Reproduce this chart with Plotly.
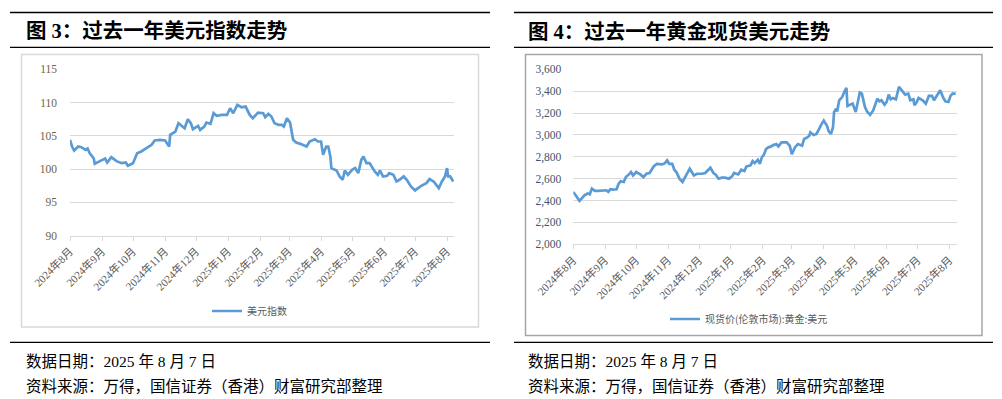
import datetime as dt
import plotly.graph_objects as go

# ---------------- data ----------------
START_DATE = dt.date(2024, 8, 1)

# US dollar index: days since 2024-08-01 and values
usd_days = [0, 2, 4, 6, 8, 11, 15, 17, 19, 23, 24, 29, 34, 36, 40, 45, 50, 54, 56, 60,
            61, 65, 69, 74, 79, 82, 87, 92, 94, 96, 97, 102, 105, 108, 111, 114, 117, 119,
            124, 126, 130, 132, 136, 139, 142, 147, 152, 155, 158, 162, 166, 170, 174, 177,
            182, 187, 189, 192, 195, 198, 202, 205, 207, 210, 213, 216, 219, 223, 226, 229,
            232, 237, 240, 243, 245, 248, 250, 252, 253, 258, 261, 264, 266, 269, 273, 276,
            279, 282, 284, 287, 290, 295, 298, 300, 303, 307, 309, 313, 316, 319, 323, 326,
            330, 334, 337, 340, 345, 348, 352, 357, 360, 363, 365, 366, 368, 371]
usd_values = [104.4, 103.4, 102.8, 103.1, 103.4, 103.3, 102.9, 103.1, 102.4, 101.6, 100.8,
              101.2, 101.6, 101.0, 101.8, 101.2, 100.9, 101.0, 100.5, 100.8, 100.9, 102.4,
              102.65, 103.15, 103.65, 104.3, 104.4, 104.3, 103.9, 103.4, 105.15, 105.65,
              106.9, 106.5, 106.15, 107.5, 106.9, 106.0, 106.5, 105.9, 106.4, 107.0, 106.8,
              108.4, 108.0, 108.15, 108.15, 109.15, 108.4, 109.65, 109.3, 109.4, 108.15,
              107.65, 108.5, 108.4, 107.8, 108.3, 107.9, 106.9, 106.65, 106.65, 106.4,
              107.65, 107.0, 104.4, 104.0, 103.8, 103.65, 103.4, 104.15, 104.5, 104.15,
              104.15, 102.15, 103.4, 103.4, 101.9, 100.15, 99.8, 98.9, 98.4, 99.8, 99.15,
              99.9, 100.15, 99.4, 101.4, 101.9, 100.9, 100.9, 99.65, 99.15, 99.8, 98.9, 99.0,
              99.4, 99.15, 98.15, 98.4, 98.9, 98.4, 97.4, 96.8, 97.15, 97.5, 97.9, 98.5,
              98.15, 97.15, 98.15, 98.9, 100.15, 98.9, 98.9, 98.15]

# London spot gold (USD): days since 2024-08-01 and values
gold_days = [0, 4, 6, 8, 11, 14, 16, 18, 21, 24, 29, 32, 34, 36, 39, 42, 44, 46, 49, 51, 54,
             56, 58, 61, 65, 68, 71, 74, 78, 81, 86, 89, 91, 93, 96, 98, 100, 103, 106, 109,
             113, 117, 120, 125, 128, 133, 136, 138, 141, 144, 147, 151, 154, 156, 160, 163,
             166, 168, 172, 174, 176, 179, 181, 183, 185, 187, 189, 192, 194, 197, 199, 202,
             207, 210, 212, 215, 218, 222, 224, 227, 229, 230, 233, 236, 239, 241, 243, 246,
             248, 250, 252, 253, 255, 256, 258, 261, 263, 265, 266, 269, 271, 274, 276, 278,
             280, 283, 285, 288, 291, 293, 295, 297, 299, 302, 304, 306, 308, 310, 313, 316,
             319, 322, 325, 327, 330, 331, 333, 335, 339, 342, 345, 348, 350, 353, 356, 359,
             361, 364, 366, 368, 371]
gold_values = [2479, 2427, 2397, 2418, 2449, 2464, 2458, 2509, 2488, 2488, 2491, 2494, 2479,
               2503, 2500, 2503, 2555, 2576, 2570, 2615, 2639, 2661, 2630, 2661, 2639, 2615,
               2645, 2652, 2712, 2736, 2730, 2742, 2767, 2736, 2736, 2682, 2661, 2600, 2570,
               2621, 2691, 2630, 2645, 2645, 2652, 2700, 2652, 2639, 2600, 2609, 2609, 2600,
               2621, 2652, 2639, 2682, 2670, 2712, 2721, 2761, 2742, 2773, 2736, 2797, 2821,
               2870, 2886, 2895, 2907, 2916, 2895, 2932, 2932, 2901, 2824, 2886, 2916, 2901,
               2963, 2978, 2993, 3024, 3000, 3009, 3070, 3101, 3132, 3086, 3030, 3009, 3070,
               3209, 3240, 3215, 3317, 3348, 3394, 3431, 3264, 3277, 3286, 3209, 3286, 3388,
               3378, 3255, 3215, 3184, 3224, 3286, 3332, 3308, 3317, 3277, 3301, 3369, 3326,
               3338, 3326, 3440, 3409, 3369, 3378, 3317, 3326, 3271, 3295, 3338, 3317, 3286,
               3357, 3357, 3317, 3369, 3409, 3338, 3308, 3301, 3357, 3378, 3378]

tick_dates = ["2024-08-01", "2024-09-01", "2024-10-01", "2024-11-01", "2024-12-01",
              "2025-01-01", "2025-02-01", "2025-03-01", "2025-04-01", "2025-05-01",
              "2025-06-01", "2025-07-01", "2025-08-01"]
tick_labels = ["2024年8月", "2024年9月", "2024年10月", "2024年11月", "2024年12月",
               "2025年1月", "2025年2月", "2025年3月", "2025年4月", "2025年5月",
               "2025年6月", "2025年7月", "2025年8月"]

usd_name = "美元指数"
gold_name = "现货价(伦敦市场):黄金:美元"
title_left = "图 3：过去一年美元指数走势"
title_right = "图 4：过去一年黄金现货美元走势"
note_date = "数据日期：2025 年 8 月 7 日"
note_source = "资料来源：万得，国信证券（香港）财富研究部整理"

usd_x = [START_DATE + dt.timedelta(days=d) for d in usd_days]
gold_x = [START_DATE + dt.timedelta(days=d) for d in gold_days]

# ---------------- figure ----------------
W, H = 1002, 399
LINE = "#5b9bd5"
GRID = "#d9d9d9"
SERIF = "Liberation Serif, Noto Sans CJK SC"
CJK = "Noto Sans CJK SC"


def px(x):
    return x / W


def py(y):
    return 1 - y / H


fig = go.Figure()
fig.add_trace(go.Scatter(x=usd_x, y=usd_values, mode="lines", name=usd_name,
                         line=dict(color=LINE, width=2.7), xaxis="x", yaxis="y",
                         legend="legend"))
fig.add_trace(go.Scatter(x=gold_x, y=gold_values, mode="lines", name=gold_name,
                         line=dict(color=LINE, width=2.7), xaxis="x2", yaxis="y2",
                         legend="legend2"))

xcommon = dict(type="date", tickmode="array", tickvals=tick_dates, ticktext=tick_labels,
               tickangle=-45, showgrid=False, showline=True, linecolor=GRID, linewidth=1,
               ticks="outside", ticklen=4, tickcolor=GRID, tickwidth=1, automargin=False,
               tickfont=dict(family=SERIF, size=11, color="#595959"), zeroline=False)

fig.update_layout(
    template="none",
    width=W, height=H, margin=dict(l=0, r=0, t=0, b=0, pad=0), autosize=False,
    paper_bgcolor="white", plot_bgcolor="white",
    xaxis=dict(domain=[px(70), px(454)], range=["2024-08-01", "2025-08-07 17:00"],
               anchor="y", **xcommon),
    yaxis=dict(domain=[py(235.7), py(69.3)], range=[90, 115], dtick=5, tick0=90,
               showgrid=True, gridcolor=GRID, gridwidth=1, zeroline=False, showline=False,
               ticks="", ticklabelstandoff=12, automargin=False,
               tickfont=dict(family=SERIF, size=11.5, color="#6e6248"), anchor="x"),
    xaxis2=dict(domain=[px(573.3), px(956.7)], range=["2024-08-01", "2025-08-08"],
                anchor="y2", **xcommon),
    yaxis2=dict(domain=[py(244.3), py(69.3)], range=[2000, 3600], dtick=200, tick0=2000,
                tickformat=",", showgrid=True, gridcolor=GRID, gridwidth=1, zeroline=False,
                showline=False, ticks="", ticklabelstandoff=11, automargin=False,
                tickfont=dict(family=SERIF, size=11.5, color="#44546a"), anchor="x2"),
    legend=dict(x=px(207), y=py(311), xanchor="left", yanchor="middle",
                font=dict(family=CJK, size=10, color="#595959"), bgcolor="rgba(0,0,0,0)",
                itemwidth=30, tracegroupgap=0),
    legend2=dict(x=px(665), y=py(319), xanchor="left", yanchor="middle",
                 font=dict(family=CJK, size=10, color="#595959"), bgcolor="rgba(0,0,0,0)",
                 itemwidth=30, tracegroupgap=0),
    showlegend=True,
)

shapes = []
# black rules
for x0, x1 in [(10, 490), (514, 993)]:
    for yy in (12.5, 47.3, 342.3):
        shapes.append(dict(type="line", xref="paper", yref="paper", x0=px(x0), x1=px(x1),
                           y0=py(yy), y1=py(yy), line=dict(color="black", width=1.3)))
# chart frames
shapes.append(dict(type="rect", xref="paper", yref="paper", x0=px(21.5), x1=px(478.5),
                   y0=py(327), y1=py(54.5), line=dict(color="#d9d9d9", width=1.5)))
shapes.append(dict(type="rect", xref="paper", yref="paper", x0=px(525.5), x1=px(982),
                   y0=py(335.5), y1=py(54.5), line=dict(color="#a6a6a6", width=1.5)))
fig.update_layout(shapes=shapes)

annotations = []
for x0, txt in [(24, title_left), (526, title_right)]:
    annotations.append(dict(xref="paper", yref="paper", x=px(x0), y=py(31), xanchor="left",
                            yanchor="middle", showarrow=False, text="<b>" + txt + "</b>",
                            font=dict(family=SERIF, size=20.5, color="black")))
for x0 in (24, 526):
    annotations.append(dict(xref="paper", yref="paper", x=px(x0), y=py(361.5),
                            xanchor="left", yanchor="middle", showarrow=False,
                            text=note_date, font=dict(family=SERIF, size=15.5, color="black")))
    annotations.append(dict(xref="paper", yref="paper", x=px(x0), y=py(386.5),
                            xanchor="left", yanchor="middle", showarrow=False,
                            text=note_source, font=dict(family=SERIF, size=15.5,
                                                         color="black")))
fig.update_layout(annotations=annotations)

fig.write_html("out.html",
               config={"displayModeBar": False, "staticPlot": True},
               post_script="document.body.style.margin='0px';"
                           "document.body.style.overflow='hidden';")
